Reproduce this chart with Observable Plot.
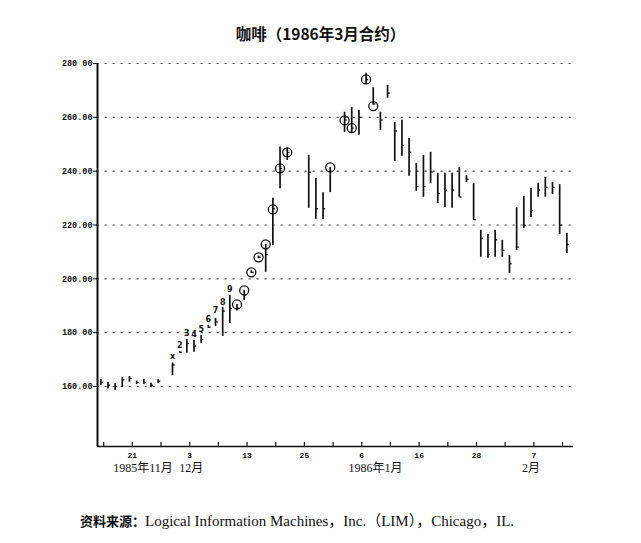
<!DOCTYPE html>
<html>
<head>
<meta charset="utf-8">
<script src="https://cdn.jsdelivr.net/npm/d3@7"></script>
<script src="https://cdn.jsdelivr.net/npm/@observablehq/plot@0.6"></script>
<style>
  html, body { margin: 0; padding: 0; background: #fff; }
  #wrap { position: relative; width: 641px; height: 543px; overflow: hidden; background: #fff; }
  #chart { position: absolute; left: 0; top: 0; }
  #title { position: absolute; left: 0; top: 23px; width: 641px; text-align: center;
           font: bold 15.5px/20px "Noto Sans CJK SC", "Noto Sans", sans-serif; color: #111; }
  #caption { position: absolute; left: 80px; top: 511px; white-space: nowrap;
             font: 15px/20px "Liberation Serif", "Noto Sans CJK SC", serif; color: #111; }
  #caption b { font: bold 13px/20px "Noto Sans CJK SC", sans-serif; }
</style>
</head>
<body>
<div id="wrap">
  <div id="chart"></div>
  <div id="title">咖啡（1986年3月合约）</div>
  <div id="caption"><b>资料来源：</b>Logical Information Machines，Inc.（LIM），Chicago，IL.</div>
</div>
<script>
// ---- data (x = trading-day index, prices in cents/lb) ----
const days   = [0, 1, 2, 3, 4, 5, 6, 7, 8, 10, 11, 12, 13, 14, 15, 16, 17, 18, 19, 20, 21, 22, 23, 24, 25, 26,
                29, 30, 31, 32, 34, 35, 36, 37, 38, 39, 40, 41, 42, 43, 44, 45, 46, 47, 48, 49, 50, 51, 52,
                53, 54, 55, 56, 57, 58, 59, 60, 61, 62, 63, 64, 65];
const highs  = [162.6, 161.6, 161.1, 163.3, 163.7, 162.0, 162.6, 161.2, 162.6, 168.7, 173.0, 177.5, 177.1, 179.0,
                182.7, 185.3, 189.4, 193.8, 190.5, 195.7, 203.0, 208.5, 212.8, 229.9, 249.0, 248.5,
                245.9, 237.3, 232.0, 241.4, 261.9, 263.7, 262.6, 276.4, 271.0, 261.9, 271.9, 258.1, 258.9,
                252.2, 242.9, 245.9, 247.0, 239.2, 239.2, 239.2, 241.4, 238.4, 235.5,
                218.0, 216.5, 218.0, 214.3, 208.7, 226.5, 230.6, 233.6, 235.5, 237.7, 235.8, 235.0, 216.9];
const lows   = [160.4, 159.1, 158.5, 159.6, 161.6, 160.7, 160.8, 159.6, 161.1, 164.1, 172.4, 172.4, 172.7, 176.0,
                181.6, 182.3, 178.6, 183.4, 188.0, 192.0, 202.0, 207.5, 202.4, 212.4, 233.5, 244.0,
                226.2, 222.1, 222.0, 232.0, 254.4, 254.4, 253.3, 272.6, 264.5, 255.2, 267.1, 243.6, 245.5,
                238.1, 232.5, 230.3, 235.5, 228.0, 226.5, 226.2, 230.3, 235.8, 221.7,
                208.0, 207.6, 208.0, 208.0, 202.0, 210.6, 218.7, 222.8, 230.3, 230.3, 231.4, 216.5, 209.4];
const closes = [161.5, 160.5, 160.0, 162.5, 163.0, 161.5, 161.5, 160.5, 162.0, 168.0, 172.7, 176.0, 175.0, 177.5,
                182.0, 184.0, 188.0, 189.0, 189.0, 194.0, 202.4, 208.0, 209.0, 226.0, 241.0, 247.0,
                239.6, 226.0, 226.0, 240.0, 259.0, 256.0, 260.0, 274.0, 265.0, 259.0, 269.0, 254.9, 249.6,
                247.0, 234.3, 234.3, 239.7, 231.7, 232.9, 233.0, 230.4, 237.0, 222.0,
                215.1, 209.0, 214.5, 210.6, 205.6, 211.8, 219.9, 225.4, 233.0, 234.0, 234.0, 219.9, 212.8];

const circleDays   = [19, 20, 21, 22, 23, 24, 25, 26, 32, 34, 35, 37, 38];
const circleValues = [190.5, 195.7, 202.4, 208.0, 212.8, 225.8, 241.0, 247.0, 241.4, 258.9, 256.0, 274.1, 264.2];

const countLabels = ["x", "2", "3", "4", "5", "6", "7", "8", "9"];
const countDays   = [10, 11, 12, 13, 14, 15, 16, 17, 18];
const countValues = [171.2, 175.2, 179.7, 179.3, 181.2, 184.9, 188.3, 191.2, 196.0];

const yTicks      = [160, 180, 200, 220, 240, 260, 280];
const yTickLabels = ["160.00", "180 00", "200.00", "220.00", "240.00", "260.00", "280 00"];

const xTickDays   = [0.4, 4.4, 8.4, 12.4, 16.4, 20.4, 24.4, 28.4, 32.4, 36.4, 40.4, 44.4, 48.4, 52.4, 56.4, 60.4, 64.4];
const xLabelDays  = [4.4, 12.4, 20.4, 28.4, 36.4, 44.4, 52.4, 60.4];
const xLabels     = ["21", "3", "13", "25", "6", "16", "28", "7"];

const monthDays   = [5.9, 12.6, 38.3, 60.0];
const monthLabels = ["1985年11月", "12月", "1986年1月", "2月"];

// ---- tables built from the arrays ----
const bars = days.map((d, i) => ({d, high: highs[i], low: lows[i], close: closes[i]}));
const circles = circleDays.map((d, i) => ({d, v: circleValues[i]}));
const counts = countDays.map((d, i) => ({d, v: countValues[i], t: countLabels[i]}));
const yLab = new Map(yTicks.map((v, i) => [v, yTickLabels[i]]));
const xLab = xLabelDays.map((d, i) => ({d, t: xLabels[i]}));
const months = monthDays.map((d, i) => ({d, t: monthLabels[i]}));

const X0 = -0.46, X1 = 65.93, Y0 = 137.7, Y1 = 280;
const mono = "Liberation Mono, DejaVu Sans Mono, monospace";

const chart = Plot.plot({
  width: 641, height: 543,
  marginLeft: 97, marginRight: 68, marginTop: 63, marginBottom: 97,
  x: {domain: [X0, X1], axis: null},
  y: {domain: [Y0, Y1], axis: null},
  style: {background: "white", color: "#111", overflow: "visible"},
  marks: [
    // dotted grid
    Plot.ruleY(yTicks, {stroke: "#444", strokeWidth: 1.2, strokeDasharray: "1.2,6.8", strokeLinecap: "round"}),
    // axes lines
    Plot.ruleX([X0], {y1: Y0, y2: Y1, stroke: "#111", strokeWidth: 2}),
    Plot.ruleY([Y0], {x1: X0, x2: X1, stroke: "#111", strokeWidth: 1.6}),
    // y axis ticks and labels
    Plot.axisY({ticks: yTicks, tickFormat: v => yLab.get(v), tickSize: 4, tickPadding: 1,
                fontSize: 8.5, fontWeight: "bold", fontFamily: mono, label: null, stroke: "#111"}),
    // x axis ticks (inward)
    Plot.ruleX(xTickDays, {y1: Y0, y2: Y0 + 1.5, stroke: "#111", strokeWidth: 1.2}),
    Plot.text(xLab, {x: "d", text: "t", frameAnchor: "bottom", dy: 11, fontSize: 8,
                     fontWeight: "bold", fontFamily: mono, fill: "#111"}),
    Plot.text(months, {x: "d", text: "t", frameAnchor: "bottom", dy: 25, fontSize: 12,
                       fontFamily: "Liberation Serif, Noto Sans CJK SC, serif", fill: "#111"}),
    // price bars
    Plot.ruleX(bars, {x: "d", y1: "low", y2: "high", stroke: "#111", strokeWidth: 1.7}),
    Plot.link(bars, {x1: "d", x2: b => b.d + 0.3, y1: "close", y2: "close", stroke: "#111", strokeWidth: 1.3}),
    // circles
    Plot.dot(circles, {x: "d", y: "v", r: 4.5, stroke: "#111", strokeWidth: 1.3, fill: "none"}),
    // count labels
    Plot.text(counts, {x: "d", y: "v", text: "t", fontSize: 8, fontWeight: "bold",
                       fontFamily: "DejaVu Sans, sans-serif", fill: "#111"})
  ]
});
document.getElementById("chart").appendChild(chart);
</script>
</body>
</html>
